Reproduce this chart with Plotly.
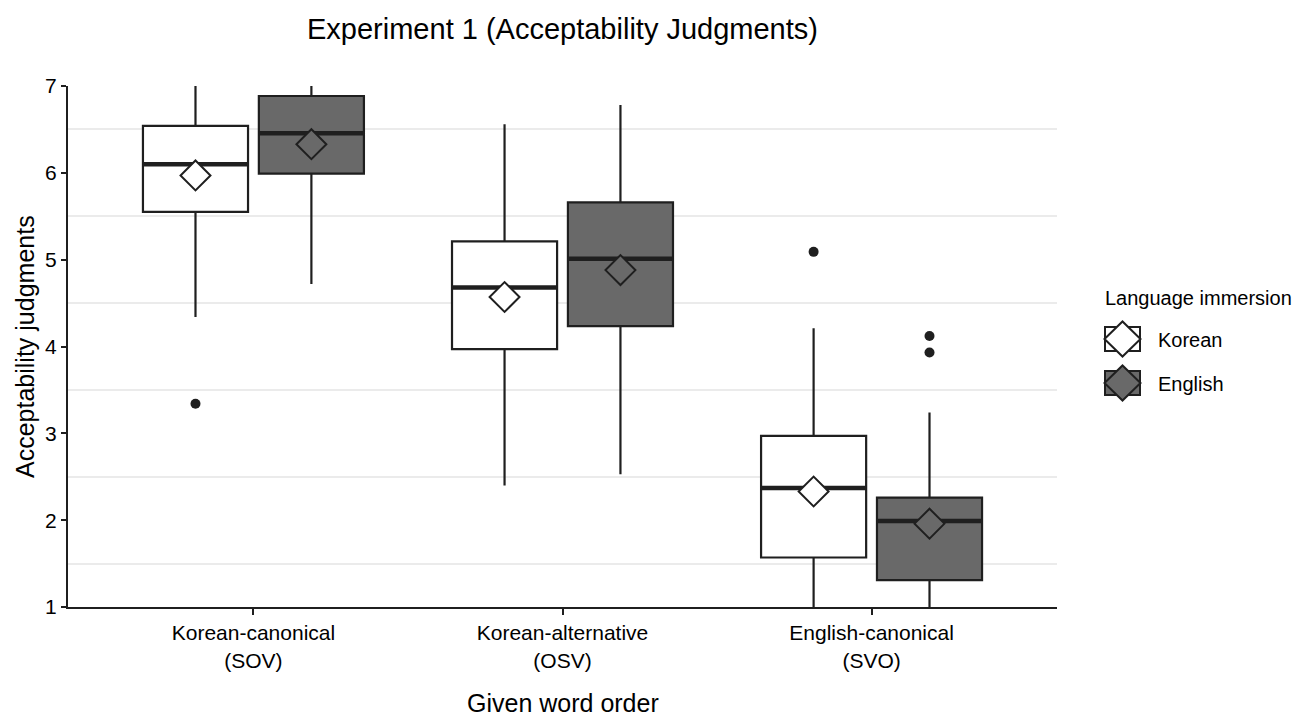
import plotly.graph_objects as go

# ---------------- data ----------------
categories = ["Korean-canonical<br>(SOV)", "Korean-alternative<br>(OSV)", "English-canonical<br>(SVO)"]
groups = ["Korean", "English"]

korean_q1 = [5.55, 3.97, 1.57]
korean_median = [6.10, 4.68, 2.37]
korean_q3 = [6.54, 5.21, 2.97]
korean_lower = [4.34, 2.40, 1.00]
korean_upper = [7.00, 6.56, 4.21]
korean_mean = [5.97, 4.57, 2.33]
korean_outlier_cat = [0, 2]
korean_outlier_val = [3.34, 5.09]

english_q1 = [5.99, 4.235, 1.31]
english_median = [6.455, 5.01, 1.99]
english_q3 = [6.885, 5.66, 2.26]
english_lower = [4.72, 2.53, 1.00]
english_upper = [7.00, 6.78, 3.24]
english_mean = [6.33, 4.88, 1.96]
english_outlier_cat = [2, 2]
english_outlier_val = [4.12, 3.93]

y_ticks = [1, 2, 3, 4, 5, 6, 7]
y_minor_grid = [1.5, 2.5, 3.5, 4.5, 5.5, 6.5]

# ---------------- style ----------------
FONT = "Liberation Sans, Arial, sans-serif"
INK = "#1f1f1f"
fills = {"Korean": "#ffffff", "English": "#696969"}
DODGE = 0.1875
BOX_W = 0.34

series = {
    "Korean": dict(q1=korean_q1, med=korean_median, q3=korean_q3, lo=korean_lower,
                   hi=korean_upper, mean=korean_mean,
                   oc=korean_outlier_cat, ov=korean_outlier_val, off=-DODGE),
    "English": dict(q1=english_q1, med=english_median, q3=english_q3, lo=english_lower,
                    hi=english_upper, mean=english_mean,
                    oc=english_outlier_cat, ov=english_outlier_val, off=DODGE),
}

fig = go.Figure()
cat_pos = list(range(1, len(categories) + 1))

for g in groups:
    s = series[g]
    xs = [c + s["off"] for c in cat_pos]
    fig.add_trace(go.Box(
        x=xs, q1=s["q1"], median=s["med"], q3=s["q3"],
        lowerfence=s["lo"], upperfence=s["hi"],
        width=BOX_W, whiskerwidth=0, boxpoints=False,
        fillcolor=fills[g], line=dict(color=INK, width=2.2),
        name=g, showlegend=False, hoverinfo="skip",
    ))

for g in groups:
    s = series[g]
    mx, my = [], []
    for c, m in zip(cat_pos, s["med"]):
        x0 = c + s["off"]
        mx += [x0 - BOX_W / 2, x0 + BOX_W / 2, None]
        my += [m, m, None]
    fig.add_trace(go.Scatter(x=mx, y=my, mode="lines", line=dict(color=INK, width=4.5),
                             showlegend=False, hoverinfo="skip"))
    # outliers
    fig.add_trace(go.Scatter(
        x=[cat_pos[c] + s["off"] for c in s["oc"]], y=s["ov"], mode="markers",
        marker=dict(color=INK, size=10), showlegend=False, hoverinfo="skip"))
    # means
    fig.add_trace(go.Scatter(
        x=[c + s["off"] for c in cat_pos], y=s["mean"], mode="markers",
        marker=dict(symbol="diamond", size=23, color=fills[g], line=dict(color=INK, width=2)),
        showlegend=False, hoverinfo="skip"))

# ---------------- layout ----------------
W, H = 1295, 717
L, R, T, B = 68, 1057, 86, 607


def px(x):
    return (x - L) / (R - L)


def py(y):
    return (B - y) / (B - T)


annotations = [
    dict(text="Given word order", x=0.5, y=py(703), xref="paper", yref="paper",
         showarrow=False, xanchor="center", yanchor="middle",
         font=dict(size=25, color="#000", family=FONT)),
    dict(text="Acceptability judgments", x=px(25), y=py(347), xref="paper", yref="paper",
         showarrow=False, xanchor="center", yanchor="middle", textangle=-90,
         font=dict(size=25, color="#000", family=FONT)),
    dict(text="Language immersion", x=px(1103), y=py(298), xref="paper", yref="paper",
         showarrow=False, xanchor="left", yanchor="middle",
         font=dict(size=20, color="#000", family=FONT)),
]
shapes = []
legend_rows = {"Korean": 339, "English": 383}
for g in groups:
    cy = legend_rows[g]
    x0, x1 = 1105, 1140
    cx = (x0 + x1) / 2
    shapes.append(dict(type="rect", xref="paper", yref="paper",
                       x0=px(x0), x1=px(x1), y0=py(cy + 12), y1=py(cy - 12),
                       fillcolor=fills[g], line=dict(color=INK, width=2)))
    path = "M {a},{b} L {c},{d} L {e},{f} L {g},{h} Z".format(
        a=px(cx - 18), b=py(cy), c=px(cx), d=py(cy - 17.5),
        e=px(cx + 18), f=py(cy), g=px(cx), h=py(cy + 17.5))
    shapes.append(dict(type="path", xref="paper", yref="paper", path=path,
                       fillcolor=fills[g], line=dict(color=INK, width=2)))
    annotations.append(dict(text=g, x=px(1156), y=py(cy + 1), xref="paper", yref="paper",
                            showarrow=False, xanchor="left", yanchor="middle",
                            font=dict(size=20, color="#000", family=FONT)))

fig.update_layout(
    width=W, height=H,
    margin=dict(l=L, r=W - R, t=T, b=H - B, autoexpand=False),
    paper_bgcolor="white", plot_bgcolor="white",
    boxmode="overlay",
    font=dict(family=FONT, color="#000"),
    title=dict(text="Experiment 1 (Acceptability Judgments)", x=0.5, xref="paper",
               xanchor="center", y=1 - 29 / H, yref="container", yanchor="middle",
               font=dict(size=29, color="#000", family=FONT)),
    xaxis=dict(range=[0.4, 3.6], tickvals=cat_pos, ticktext=categories,
               showgrid=False, zeroline=False, showline=True, linecolor=INK, linewidth=2.2,
               ticks="outside", ticklen=6, tickwidth=2, tickcolor=INK,
               tickfont=dict(size=21, color="#000", family=FONT)),
    yaxis=dict(range=[1, 7], tickvals=y_ticks, showgrid=False, zeroline=False,
               showline=True, linecolor=INK, linewidth=2.2,
               ticks="outside", ticklen=5, tickwidth=2, tickcolor=INK,
               tickfont=dict(size=21, color="#000", family=FONT),
               minor=dict(tickvals=y_minor_grid, showgrid=True, gridcolor="#ebebeb",
                          gridwidth=1.5, ticks="")),
    annotations=annotations,
    shapes=shapes,
)

fig.write_html(
    "out.html",
    config={"displayModeBar": False},
    post_script="document.body.style.margin='0';document.body.style.overflow='hidden';",
)
